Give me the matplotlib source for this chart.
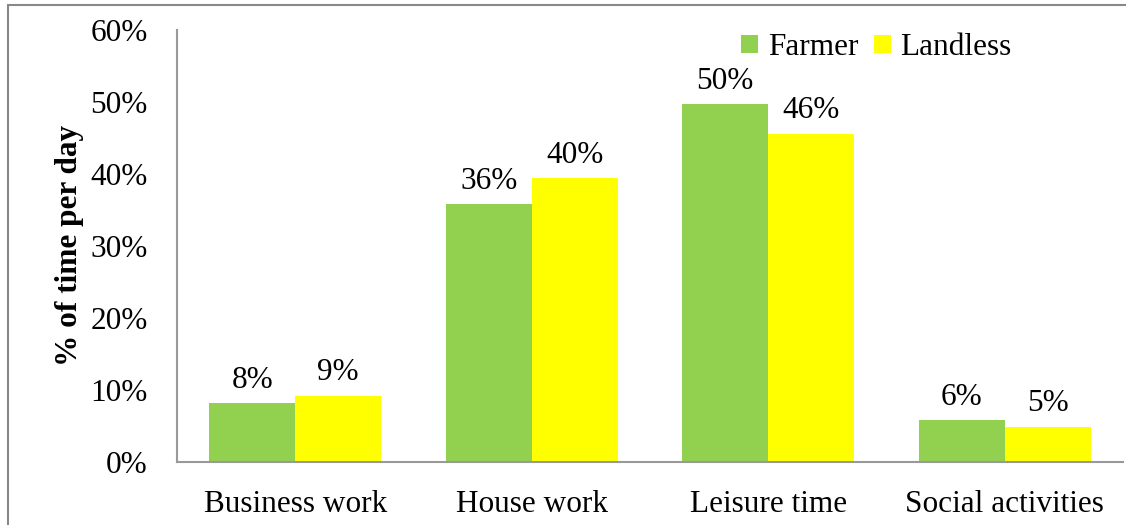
import matplotlib
matplotlib.use("Agg")
from matplotlib import pyplot as plt
from matplotlib.patches import Rectangle
import numpy as np

categories = ["Business work", "House work", "Leisure time", "Social activities"]
farmer = [0.082, 0.358, 0.497, 0.058]
landless = [0.092, 0.394, 0.456, 0.049]
farmer_labels = ["8%", "36%", "50%", "6%"]
landless_labels = ["9%", "40%", "46%", "5%"]

plt.rcParams['font.family'] = ['Liberation Serif', 'DejaVu Serif']

fig = plt.figure(figsize=(11.26, 5.25), dpi=100)
ax = fig.add_axes([177/1126, 1 - 462/525, 946/1126, 432/525])

x = np.arange(len(categories))
w = 0.364
b1 = ax.bar(x - w/2, farmer, w, color='#92D050', label='Farmer')
b2 = ax.bar(x + w/2, landless, w, color='#FFFF00', label='Landless')

for bars, labs in [(b1, farmer_labels), (b2, landless_labels)]:
    for bar, lab in zip(bars, labs):
        ax.annotate(lab, (bar.get_x() + bar.get_width()/2, bar.get_height()),
                    xytext=(0, 6), textcoords='offset points',
                    ha='center', va='bottom', fontsize=22.5)

ax.set_xlim(-0.5, 3.5)
ax.set_ylim(0, 0.6)
ax.set_yticks(np.arange(0, 0.61, 0.1))
ax.set_yticklabels([f"{int(round(v*100))}%" for v in np.arange(0, 0.61, 0.1)])
ax.set_xticks(x)
ax.set_xticklabels(categories)
ax.tick_params(axis='both', length=0, labelsize=22.5)
ax.tick_params(axis='y', pad=21)
ax.tick_params(axis='x', pad=20)
for s in ['top', 'right']:
    ax.spines[s].set_visible(False)
for s in ['left', 'bottom']:
    ax.spines[s].set_color('#999999')
    ax.spines[s].set_linewidth(1.5)

ax.set_ylabel('% of time per day', fontsize=22.5, fontweight='bold', labelpad=5)

ax.legend(loc='upper left', bbox_to_anchor=(0.583, 1.022), ncol=2, frameon=False,
          fontsize=22.5, handlelength=0.55, handleheight=0.55, handletextpad=0.3,
          columnspacing=0.5, borderaxespad=0)

fig.patches.append(Rectangle((8/1126, -0.05), 1.2, 1 - 5/525 + 0.05,
                             transform=fig.transFigure, fill=False,
                             edgecolor='#888888', linewidth=1.5))

fig.savefig('out.png', dpi=100)
